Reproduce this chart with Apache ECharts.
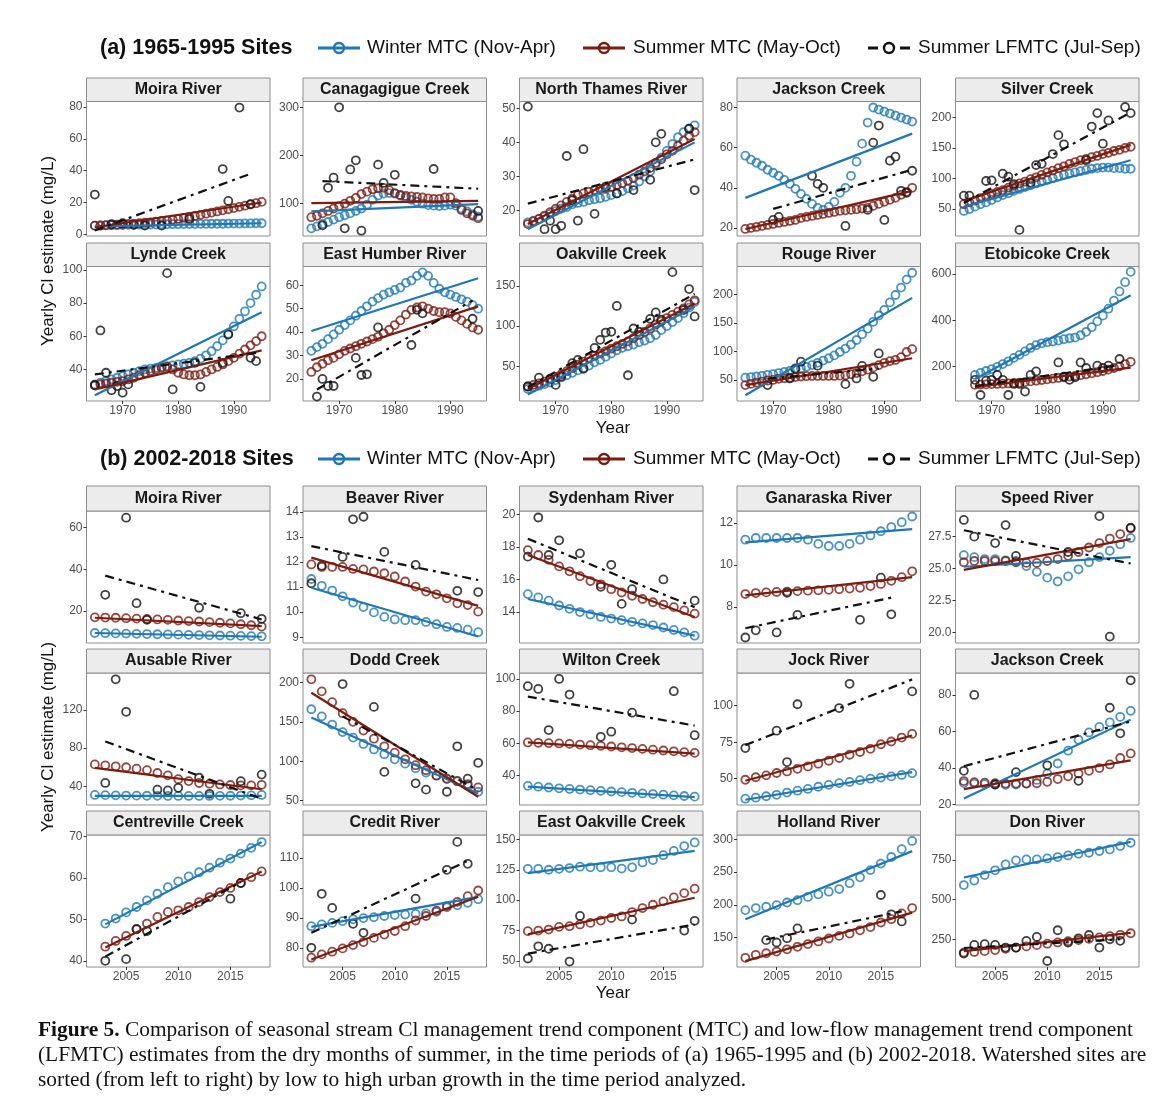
<!DOCTYPE html>
<html>
<head>
<meta charset="utf-8">
<script src="https://cdn.jsdelivr.net/npm/echarts@6/dist/echarts.min.js"></script>
<style>
html, body { margin: 0; padding: 0; background: #fff; }
#container { width: 1163px; height: 1112px; }
</style>
</head>
<body>
<div id="container"></div>
<script>
// ---- (a) 1965-1995 sites ----
const sitesA = ['Moira River', 'Canagagigue Creek', 'North Thames River', 'Jackson Creek', 'Silver Creek',
    'Lynde Creek', 'East Humber River', 'Oakville Creek', 'Rouge River', 'Etobicoke Creek'];
const yearsA = [1965, 1966, 1967, 1968, 1969, 1970, 1971, 1972, 1973, 1974, 1975, 1976, 1977, 1978, 1979, 1980,
    1981, 1982, 1983, 1984, 1985, 1986, 1987, 1988, 1989, 1990, 1991, 1992, 1993, 1994, 1995];
const xTicksA = [1970, 1980, 1990];
const yTicksA = [[0, 20, 40, 60, 80], [100, 200, 300], [20, 30, 40, 50], [20, 40, 60, 80], [50, 100, 150, 200],
    [40, 60, 80, 100], [20, 30, 40, 50, 60], [50, 100, 150], [50, 100, 150, 200], [200, 400, 600]];
const yRangeA = [[-1, 83.4], [33, 312], [12.5, 52], [16, 83], [6, 226],
    [21, 102], [10.6, 68], [7, 174], [13, 249], [50, 633]];

const winterA = [
    [5.5, 5.6, 5.7, 5.8, 5.8, 5.9, 6, 6, 6.1, 6.1, 6.2, 6.2, 6.3, 6.3, 6.4, 6.4, 6.5, 6.5, 6.5, 6.6, 6.6, 6.7, 6.7, 6.7, 6.8, 6.8, 6.8, 6.9, 6.9, 7, 7],
    [49, 53, 58, 62, 67, 72, 76, 80, 85, 90, 98, 108, 117, 121, 122, 121, 117, 112, 108, 104, 100, 97, 96, 95, 96, 98, 96, 90, 84, 78, 73],
    [16.5, 17, 17.5, 18.2, 19, 19.8, 20.5, 21, 21.8, 22.2, 22.5, 23, 23.3, 23.6, 24, 24.5, 25, 25.7, 26.5, 27.3, 28.5, 30, 31.5, 33.5, 35.5, 37.5, 39.5, 41.5, 43, 44, 45],
    [56, 54, 52.5, 51, 49, 47.5, 46, 44, 42, 39.5, 37, 34.5, 32, 30, 29, 30.5, 33, 37.5, 40, 46, 53, 62, 72.5, 80, 79, 78, 77, 76, 75, 74, 73],
    [47, 50, 54, 58, 61, 65, 69, 73, 76, 80, 83, 86, 89, 92, 95, 98, 101, 104, 106, 108, 110, 112, 114, 116, 117, 118, 118, 117, 117, 116, 116],
    [31, 32, 33, 34, 35, 36, 37, 38, 39, 40, 40.5, 41, 41.5, 42, 42.5, 43, 43.5, 44, 45, 46.5, 48.5, 51, 54, 57.5, 61.5, 66, 70.5, 75, 80, 85, 90],
    [32, 33.6, 35, 37, 39, 41, 43, 45, 47, 49, 51, 53, 54.5, 56, 57, 58, 59, 61, 62, 64, 65.5, 64, 61, 58.5, 57, 56, 55, 54, 53, 51.5, 50],
    [22, 24, 26, 28, 30, 33, 36, 39, 42, 45, 48, 51, 55, 58, 62, 66, 70, 73, 75, 77, 80, 82, 85, 89, 95, 100, 105, 110, 116, 123, 130],
    [54, 55, 56, 57, 59, 60, 62, 64, 66, 68, 70, 73, 76, 80, 84, 88, 93, 99, 105, 112, 120, 130, 140, 152, 163, 173, 186, 199, 212, 226, 238],
    [null, null, 163, 172, 180, 188, 198, 210, 222, 237, 250, 265, 280, 292, 300, 305, 308, 312, 318, 322, 325, 335, 350, 370, 395, 420, 450, 485, 525, 565, 610]
];
const summerA = [
    [5.5, 5.6, 5.8, 6, 6.2, 6.4, 6.6, 6.8, 7, 7.3, 7.6, 8, 8.4, 8.8, 9.3, 9.8, 10.4, 11, 11.6, 12.3, 13, 13.7, 14.4, 15.1, 15.8, 16.5, 17.3, 18, 18.8, 19.6, 20.4],
    [72, 75, 80, 85, 90, 95, 100, 106, 112, 120, 125, 130, 132, 133, 128, 122, 118, 116, 115, 114, 113, 111, 110, 110, 113, 113, 101, 87, 80, 75, 70],
    [16, 16.8, 17.5, 18.5, 19.5, 20.5, 21.5, 22.5, 23.5, 24.5, 25, 25.5, 26, 26.3, 26.6, 27, 27.5, 28, 28.7, 29.5, 30.5, 31.5, 32.5, 34, 35, 36.5, 37.5, 39, 40.5, 42, 43],
    [19.5, 20, 20.5, 21, 21.5, 22, 22.5, 23, 23.5, 24, 25, 25.5, 26, 26.5, 27, 27.5, 28, 28.5, 28.8, 29, 29.3, 29.7, 30, 31, 32, 33, 34, 35, 36.5, 38, 40],
    [58, 61, 64, 68, 71, 75, 78, 81, 85, 88, 92, 95, 99, 102, 106, 110, 113, 117, 120, 124, 127, 130, 132, 135, 137, 140, 142, 145, 147, 150, 152],
    [30.5, 31, 31.5, 32, 32.5, 33, 34, 35, 36.5, 38, 39, 40, 41, 41.5, 40, 38, 37, 36.5, 36.5, 37, 38.5, 40, 41.5, 43, 45, 47, 49.5, 52, 54.5, 57, 60],
    [23, 25, 26.5, 28, 29, 30.5, 32, 33, 34, 35, 36, 37, 38, 39.5, 41, 43, 45, 47.5, 49.5, 50.5, 51, 50, 49, 48.5, 48.5, 48, 46.5, 45, 43.5, 42, 41],
    [25, 27, 29, 31, 34, 37, 40, 44, 48, 52, 56, 60, 63, 66, 69, 72, 75, 78, 81, 85, 89, 93, 97, 102, 106, 110, 114, 118, 122, 127, 132],
    [41, 43, 45, 47, 49, 50, 52, 53, 54, 55, 56, 56.5, 57, 57, 57, 57, 57, 57.5, 58, 60, 62, 65, 68, 72, 76, 80, 83, 85, 90, 99, 104],
    [null, null, 120, 121, 122, 123, 124, 125, 126, 128, 130, 132, 135, 138, 141, 144, 147, 150, 153, 156, 159, 162, 166, 170, 175, 180, 186, 193, 200, 210, 220]
];
const lowFlowA = [
    [[1965, 25], [1968, 6.5], [1970, 7], [1972, 6], [1974, 5.5], [1977, 5.5], [1982, 9.7], [1988, 41], [1989, 21], [1991, 79.6], [1993, 19]],
    [[1967, 55], [1968, 133], [1969, 154], [1970, 300], [1971, 49], [1972, 171], [1973, 190], [1974, 44], [1977, 181], [1978, 143], [1980, 160], [1987, 172], [1995, 85]],
    [[1965, 50.5], [1968, 14.5], [1969, 17], [1970, 14.5], [1971, 15.5], [1972, 36], [1973, 23], [1974, 17], [1975, 38], [1977, 19], [1979, 27], [1981, 25], [1984, 26], [1987, 29], [1988, 40], [1989, 42.5], [1994, 44], [1995, 26]],
    [[1970, 24], [1971, 25.5], [1977, 46], [1978, 42], [1979, 40], [1983, 21], [1987, 29], [1988, 62.5], [1989, 71], [1990, 24], [1991, 53.5], [1992, 55.5], [1993, 38.5], [1994, 37.5], [1995, 48.5]],
    [[1965, 72], [1966, 72], [1969, 96], [1970, 97], [1972, 108], [1973, 103], [1974, 91], [1975, 16], [1977, 93], [1978, 122], [1979, 124], [1981, 140], [1982, 171], [1983, 156], [1987, 130], [1988, 185], [1989, 207], [1990, 157], [1991, 195], [1994, 217], [1995, 207]],
    [[1965, 30.5], [1966, 63.5], [1967, 38], [1968, 27.5], [1969, 30], [1970, 26], [1971, 31], [1978, 98], [1979, 28], [1983, 44], [1984, 29.5], [1988, 44], [1989, 61], [1993, 47], [1994, 45]],
    [[1966, 12.5], [1967, 20], [1968, 17], [1969, 17], [1973, 29], [1974, 21.7], [1975, 22], [1977, 42], [1983, 34.5], [1984, 49.5], [1985, 48], [1994, 45.7]],
    [[1965, 25], [1967, 36], [1969, 34.5], [1970, 27], [1971, 37.5], [1973, 54], [1974, 58], [1975, 47], [1977, 73], [1978, 83], [1979, 92], [1980, 93], [1981, 125], [1983, 39], [1984, 97], [1985, 93], [1987, 109], [1988, 117], [1989, 108], [1991, 167], [1993, 120], [1994, 146], [1995, 112]],
    [[1969, 41], [1973, 52.6], [1974, 70], [1975, 82], [1978, 75], [1983, 42.6], [1985, 52.6], [1986, 74.5], [1988, 55.5], [1989, 96.5]],
    [[1967, 142], [1968, 76], [1969, 138], [1970, 142], [1971, 163], [1972, 142], [1973, 76], [1974, 124], [1975, 124], [1976, 91], [1977, 163], [1978, 178], [1982, 217], [1983, 156], [1984, 142], [1985, 153], [1986, 217], [1987, 193], [1989, 203], [1990, 193], [1991, 203], [1993, 232]]
];
// trend lines: winter / summer [start, end]; low flow [x0, y0, x1, y1]
const winterTrendA = [[5, 7], [84, 99], [14.5, 40], [35, 67], [54, 130], [24.5, 74.5], [40.5, 63], [15, 124], [23, 194], [145, 508]];
const summerTrendA = [[4.5, 20], [101, 106], [16, 41], [19.5, 38.5], [63, 155], [28, 51.5], [28, 51], [22, 128], [41, 88], [110, 195]];
const lowFlowTrendA = [[1965, 2.5, 1993, 38], [1967, 147, 1995, 131], [1965, 22, 1995, 35], [1970, 29.5, 1995, 49], [1965, 60, 1995, 208],
    [1965, 37, 1994, 50], [1966, 15.5, 1994, 53.5], [1965, 24, 1995, 140], [1969, 52, 1989, 70], [1967, 115, 1993, 205]];

// ---- (b) 2002-2018 sites ----
const sitesB = ['Moira River', 'Beaver River', 'Sydenham River', 'Ganaraska River', 'Speed River',
    'Ausable River', 'Dodd Creek', 'Wilton Creek', 'Jock River', 'Jackson Creek',
    'Centreville Creek', 'Credit River', 'East Oakville Creek', 'Holland River', 'Don River'];
const yearsB = [2002, 2003, 2004, 2005, 2006, 2007, 2008, 2009, 2010, 2011, 2012, 2013, 2014, 2015, 2016, 2017, 2018];
const xTicksB = [2005, 2010, 2015];
const yTicksB = [[20, 40, 60], [9, 10, 11, 12, 13, 14], [14, 16, 18, 20], [8, 10, 12], [20, 22.5, 25, 27.5],
    [40, 80, 120], [50, 100, 150, 200], [40, 60, 80, 100], [50, 75, 100], [20, 40, 60, 80],
    [40, 50, 60, 70], [80, 90, 100, 110], [50, 75, 100, 125, 150], [150, 200, 250, 300], [250, 500, 750]];
const yRangeB = [[4.7, 68], [8.77, 14.03], [12.1, 20.2], [6.3, 12.56], [19.2, 29.5],
    [20.5, 158.6], [44.5, 212], [21.6, 103.7], [32, 122.4], [19.8, 92],
    [38.5, 70.4], [73.6, 117.6], [45, 153.6], [105, 306.6], [75, 908]];

const winterB = [
    [9.5, 9.4, 9.3, 9.2, 9.1, 9, 8.9, 8.8, 8.7, 8.6, 8.5, 8.4, 8.3, 8.2, 8.1, 8, 7.9],
    [11.32, 11.05, 10.86, 10.63, 10.38, 10.2, 9.99, 9.81, 9.71, 9.68, 9.68, 9.61, 9.52, 9.41, 9.37, 9.3, 9.2],
    [15.1, 14.9, 14.7, 14.4, 14.2, 14, 13.85, 13.7, 13.6, 13.5, 13.4, 13.3, 13.2, 13.05, 12.9, 12.75, 12.55],
    [11.2, 11.28, 11.28, 11.28, 11.28, 11.28, 11.2, 11.0, 10.9, 10.9, 11.0, 11.2, 11.4, 11.6, 11.8, 12.03, 12.3],
    [26.05, 25.9, 25.75, 25.75, 25.65, 25.6, 25.2, 24.75, 24.3, 24.0, 24.4, 24.95, 25.5, 25.9, 26.4, 26.9, 27.4],
    [31, 30.8, 30.6, 30.4, 30.3, 30.2, 30.1, 30, 30, 30, 30, 30, 30.1, 30.2, 30.4, 30.6, 31],
    [166, 157, 146.6, 137, 130, 122, 115, 109, 102.5, 97, 91.2, 85.7, 81.5, 77.3, 74.4, 69, 61.3],
    [33.5, 33, 32.5, 32, 31.6, 31.2, 30.8, 30.4, 30, 29.6, 29.2, 28.8, 28.4, 28, 27.6, 27.2, 26.8],
    [36.3, 37, 38, 39, 40.5, 41.8, 43, 44.5, 45.8, 47, 47.8, 49, 50, 50.8, 51.6, 52.6, 53.8],
    [31.8, 31.5, 31.2, 31, 30.8, 31, 31.5, 33.5, 37, 42.5, 49.5, 55.5, 59.5, 62.5, 65, 68, 71.3],
    [null, 49, 50.2, 51.7, 53, 54.6, 56.2, 57.8, 59.2, 60.4, 61.4, 62.5, 63.7, 64.7, 65.9, 67.3, 68.7],
    [87.2, 87.8, 88.3, 88.9, 89.5, 89.9, 90.2, 90.6, 90.9, 91.1, 91.3, 91.5, 92, 93.5, 94.2, 95, 96.2],
    [125.8, 125.8, 125, 125.8, 126.4, 127.5, 127, 127, 127, 126, 127, 131, 133, 137, 140.5, 144.5, 147.5],
    [191.9, 195, 197, 199.5, 203.5, 207, 212, 216, 220, 224, 233, 242, 253, 263, 273, 285, 297.5],
    [592, 621, 655, 685, 723, 748, 754, 754, 760, 769, 779, 790, 796, 807, 817, 838, 859]
];
const summerB = [
    [17, 16.9, 16.8, 16.6, 16.4, 16.2, 16, 15.8, 15.5, 15.2, 15, 14.7, 14.4, 14.1, 13.7, 13.2, 12.6],
    [11.9, 11.8, 11.8, 11.8, 11.72, 11.7, 11.62, 11.55, 11.42, 11.22, 11.02, 10.82, 10.71, 10.55, 10.35, 10.28, 10.02],
    [17.8, 17.5, 17.2, 16.8, 16.5, 16.2, 15.9, 15.7, 15.4, 15.2, 15.0, 14.8, 14.6, 14.45, 14.3, 14.1, 13.9],
    [8.62, 8.67, 8.7, 8.72, 8.74, 8.76, 8.78, 8.8, 8.82, 8.85, 8.88, 8.92, 9.0, 9.1, 9.25, 9.42, 9.7],
    [25.5, 25.6, 25.6, 25.6, 25.6, 25.5, 25.45, 25.45, 25.6, 25.75, 26.0, 26.3, 26.65, 27.0, 27.35, 27.7, 28.15],
    [63, 62, 61, 60, 58.5, 57, 54, 51.5, 47.5, 45.5, 43.5, 42.8, 42, 41.4, 41, 41, 41.6],
    [204, 188.7, 175, 161, 150, 139, 128.6, 119, 110.9, 102.5, 95, 88.6, 82, 78, 75, 71, 66.8],
    [60.5, 60.3, 60.1, 59.9, 59.6, 59.2, 58.8, 58.4, 58, 57.5, 57, 56.5, 56, 55.5, 55, 54.5, 54],
    [49.3, 51, 52.3, 53.9, 55, 56.8, 58.4, 60.3, 62.3, 64.2, 66.4, 68.3, 70.5, 73.6, 75.5, 78.2, 80.7],
    [32.9, 32.3, 32, 31.7, 31.5, 31.5, 31.5, 31.7, 32.5, 34, 35.5, 37, 38.5, 40, 42, 45.5, 48],
    [null, 43.4, 44.8, 46, 47.6, 49, 50.6, 51.8, 52.2, 53, 54.2, 55.4, 56.6, 57.6, 58.8, 60.2, 61.6],
    [76.7, 77.8, 78.7, 79.8, 80.9, 81.9, 83.3, 84.4, 85.6, 87.2, 89.1, 90.6, 92.4, 93.9, 95.3, 97.2, 99.1],
    [74.5, 75, 75.8, 78, 78.6, 80, 81.3, 83.2, 85.3, 86.6, 90.2, 93.5, 96.2, 99, 102.3, 105.8, 109.4],
    [119, 123.6, 126, 128.6, 132, 135.8, 140, 144, 148.5, 152.5, 156, 161, 166, 173, 178, 186.8, 195],
    [166, 170, 175, 182, 190, 197, 205, 213, 222, 230, 238, 245, 253, 262, 270, 278, 288]
];
const lowFlowB = [
    [[2003, 27.8], [2005, 64.8], [2006, 23.8], [2007, 15.8], [2012, 21.6], [2016, 19], [2018, 16.3]],
    [[2002, 11.15], [2003, 11.85], [2005, 12.2], [2006, 13.7], [2007, 13.8], [2009, 12.4], [2012, 11.88], [2016, 10.85], [2018, 10.8]],
    [[2002, 17.4], [2003, 19.8], [2004, 17.5], [2005, 18.4], [2007, 17.6], [2009, 15.55], [2010, 16.9], [2011, 14.5], [2012, 15.4], [2015, 16.0], [2018, 14.7]],
    [[2002, 6.56], [2003, 6.9], [2005, 6.8], [2006, 8.68], [2007, 7.63], [2013, 7.4], [2015, 9.4], [2016, 7.66]],
    [[2002, 28.8], [2003, 27.5], [2005, 27.0], [2006, 28.4], [2007, 26.0], [2012, 26.3], [2015, 29.1], [2016, 19.7], [2018, 28.2]],
    [[2003, 43.6], [2004, 152], [2005, 118], [2008, 36.5], [2009, 35.7], [2010, 38.5], [2012, 49], [2013, 32.2], [2016, 45.4], [2018, 52.3]],
    [[2005, 198], [2008, 169], [2009, 86.5], [2012, 72], [2013, 64], [2015, 61.3], [2016, 119], [2017, 78], [2018, 98]],
    [[2002, 95.5], [2003, 93.8], [2004, 68.2], [2005, 100], [2006, 90.3], [2009, 64], [2010, 67.2], [2012, 79], [2016, 92.4], [2018, 65]],
    [[2002, 71], [2005, 82.9], [2006, 61.4], [2007, 101], [2011, 98.4], [2012, 115], [2018, 109.8]],
    [[2002, 38.5], [2003, 80], [2005, 31], [2007, 37.8], [2010, 41.5], [2013, 33], [2016, 73], [2017, 59], [2018, 88]],
    [[2003, 40], [2005, 40.4], [2006, 47.7], [2007, 47.2], [2015, 55], [2016, 58.8]],
    [[2002, 80], [2003, 98], [2004, 93.3], [2006, 88], [2007, 85], [2012, 96.4], [2015, 106], [2016, 115.3], [2017, 108]],
    [[2002, 52], [2003, 62], [2004, 60], [2006, 49.5], [2007, 87], [2012, 84], [2017, 75], [2018, 83]],
    [[2004, 146], [2005, 142.4], [2006, 149], [2007, 164], [2015, 215], [2016, 185.5], [2017, 174.6]],
    [[2002, 160], [2003, 214], [2004, 219], [2005, 214], [2006, 197.5], [2007, 197.5], [2008, 240], [2009, 265], [2010, 113], [2011, 307], [2012, 229], [2013, 256], [2014, 277], [2015, 197.5], [2016, 250], [2017, 240]]
];
const winterTrendB = [[9.5, 7.7], [10.97, 9.03], [14.8, 12.55], [11.07, 11.7], [25.15, 25.9], [30, 30], [155.5, 59], [33, 26.5],
    [35.6, 54.5], [23.3, 66.5], [48.8, 68.7], [87, 97], [122.3, 140.6], [178, 282], [640, 865]];
const summerTrendB = [[16.8, 12.8], [12.17, 10.25], [17.5, 13.7], [8.56, 9.42], [24.9, 27.3], [59.3, 37], [187, 55], [60.5, 53.5],
    [48.6, 79.6], [28.5, 44.2], [43.2, 61.6], [76.1, 97], [71.9, 102], [114, 188], [175, 290]];
const lowFlowTrendB = [[2003, 37, 2018, 16], [2002, 12.63, 2018, 11.28], [2002, 18.5, 2018, 14.3], [2002, 7.0, 2016, 8.45], [2002, 28.0, 2018, 25.4],
    [2003, 87, 2018, 27], [2005, 157, 2018, 63], [2002, 89, 2018, 71], [2002, 73, 2018, 118], [2002, 41, 2018, 65.5],
    [2003, 41, 2016, 59], [2002, 85, 2017, 109], [2002, 56, 2018, 80], [2004, 147, 2017, 190], [2002, 195, 2017, 250]];

const seriesNames = ['Winter MTC (Nov-Apr)', 'Summer MTC (May-Oct)', 'Summer LFMTC (Jul-Sep)'];

(function () {
    const chart = echarts.init(document.getElementById('container'));

    const BLUE = '#1f78b4', BROWN = '#7a1c10', BLACK = '#111111';
    const SANS = '"Liberation Sans", Arial, sans-serif';
    const colLeft = [86.5, 303, 519.5, 737, 955.5];
    const PW = 183.5;

    let grids = [], xAxes = [], yAxes = [], series = [], graphics = [];

    function decimals(ticks) {
        let d = 0;
        ticks.forEach(function (t) {
            let s = String(t).split('.')[1];
            if (s) d = Math.max(d, s.length);
        });
        return d;
    }

    function addPanel(title, left, stripTop, plotTop, plotBottom, xRange, xTicks, showX,
                      yRange, yTicks, years, winter, summer, lowFlow, wTrend, sTrend, lTrend) {
        let i = grids.length;
        grids.push({
            left: left, top: plotTop, width: PW, height: plotBottom - plotTop,
            show: true, borderColor: '#8c8c8c', borderWidth: 1, backgroundColor: '#fff'
        });
        xAxes.push({
            type: 'value', gridIndex: i, min: xRange[0], max: xRange[1],
            axisLine: {show: false}, splitLine: {show: false},
            axisTick: {show: showX, customValues: xTicks, length: 3, lineStyle: {color: '#333'}},
            axisLabel: {
                show: showX, customValues: xTicks, color: '#4d4d4d', fontSize: 12, margin: 4, fontFamily: SANS,
                formatter: function (v) { return String(v); }
            }
        });
        let d = decimals(yTicks);
        yAxes.push({
            type: 'value', gridIndex: i, min: yRange[0], max: yRange[1],
            axisLine: {show: false}, splitLine: {show: false},
            axisTick: {show: true, customValues: yTicks, length: 3, lineStyle: {color: '#333'}},
            axisLabel: {
                customValues: yTicks, color: '#4d4d4d', fontSize: 12, margin: 4, fontFamily: SANS,
                formatter: function (v) { return v.toFixed(d); }
            }
        });

        graphics.push({
            type: 'rect', shape: {x: left, y: stripTop, width: PW, height: plotTop - stripTop},
            style: {fill: '#ececec', stroke: '#8c8c8c', lineWidth: 1}
        });
        graphics.push({
            type: 'text', x: left + PW / 2, y: (stripTop + plotTop) / 2,
            style: {text: title, font: 'bold 16px ' + SANS, fill: '#1a1a1a', align: 'center', verticalAlign: 'middle'}
        });

        let toPoints = function (vals) {
            let pts = [];
            years.forEach(function (y, j) { if (vals[j] != null) pts.push([y, vals[j]]); });
            return pts;
        };
        let wp = toPoints(winter), sp = toPoints(summer);
        let circle = function (name, data, color) {
            return {
                name: name, type: 'scatter', xAxisIndex: i, yAxisIndex: i, data: data,
                symbol: 'circle', symbolSize: 8, silent: true, z: 3,
                itemStyle: {color: 'rgba(0,0,0,0)', borderColor: color, borderWidth: 1.8}
            };
        };
        let trend = function (name, data, color, dash) {
            return {
                name: name, type: 'line', xAxisIndex: i, yAxisIndex: i, data: data,
                symbol: 'none', silent: true, z: 4,
                lineStyle: {color: color, width: 2.2, type: dash ? [9, 5, 3, 5] : 'solid'}
            };
        };
        series.push(circle(seriesNames[0], wp, BLUE));
        series.push(circle(seriesNames[1], sp, BROWN));
        series.push(circle(seriesNames[2], lowFlow, BLACK));
        series.push(trend(seriesNames[0], [[wp[0][0], wTrend[0]], [wp[wp.length - 1][0], wTrend[1]]], BLUE, false));
        series.push(trend(seriesNames[1], [[sp[0][0], sTrend[0]], [sp[sp.length - 1][0], sTrend[1]]], BROWN, false));
        series.push(trend(seriesNames[2], [[lTrend[0], lTrend[1]], [lTrend[2], lTrend[3]]], BLACK, true));
    }

    // (a) layout: 2 rows
    const rowsA = [[78, 101.5, 236], [243, 266.5, 401]];
    sitesA.forEach(function (name, k) {
        let r = Math.floor(k / 5), c = k % 5;
        addPanel(name, colLeft[c], rowsA[r][0], rowsA[r][1], rowsA[r][2], [1963.5, 1996.5], xTicksA, r === 1,
            yRangeA[k], yTicksA[k], yearsA, winterA[k], summerA[k], lowFlowA[k],
            winterTrendA[k], summerTrendA[k], lowFlowTrendA[k]);
    });
    // (b) layout: 3 rows
    const rowsB = [[486, 511, 643], [649, 673, 805], [811, 835, 967]];
    sitesB.forEach(function (name, k) {
        let r = Math.floor(k / 5), c = k % 5;
        addPanel(name, colLeft[c], rowsB[r][0], rowsB[r][1], rowsB[r][2], [2001.2, 2018.8], xTicksB, r === 2,
            yRangeB[k], yTicksB[k], yearsB, winterB[k], summerB[k], lowFlowB[k],
            winterTrendB[k], summerTrendB[k], lowFlowTrendB[k]);
    });

    // legend rows
    function legendRow(label, y) {
        graphics.push({type: 'text', x: 100, y: y, style: {text: label, font: 'bold 21.5px ' + SANS, fill: '#111', verticalAlign: 'middle'}});
        let items = [[318, BLUE, false, 367], [583, BROWN, false, 633], [868, BLACK, true, 918]];
        items.forEach(function (it, n) {
            let x0 = it[0], col = it[1];
            if (it[2]) {
                graphics.push({type: 'line', shape: {x1: x0, y1: y, x2: x0 + 10, y2: y}, style: {stroke: col, lineWidth: 3}});
                graphics.push({type: 'line', shape: {x1: x0 + 32, y1: y, x2: x0 + 42, y2: y}, style: {stroke: col, lineWidth: 3}});
            } else {
                graphics.push({type: 'line', shape: {x1: x0, y1: y, x2: x0 + 42, y2: y}, style: {stroke: col, lineWidth: 3}});
            }
            graphics.push({type: 'circle', shape: {cx: x0 + 21, cy: y, r: 5}, style: {fill: 'none', stroke: col, lineWidth: 2.4}});
            graphics.push({type: 'text', x: it[3], y: y, style: {text: seriesNames[n], font: '19px ' + SANS, fill: '#111', verticalAlign: 'middle'}});
        });
    }
    legendRow('(a) 1965-1995 Sites', 48);
    legendRow('(b) 2002-2018 Sites', 459);

    // axis titles
    [[251, 428], [737, 993]].forEach(function (p) {
        graphics.push({type: 'text', x: 48, y: p[0], rotation: Math.PI / 2,
            style: {text: 'Yearly Cl estimate (mg/L)', font: '17px ' + SANS, fill: '#111', align: 'center', verticalAlign: 'middle'}});
        graphics.push({type: 'text', x: 613, y: p[1],
            style: {text: 'Year', font: '17px ' + SANS, fill: '#111', align: 'center', verticalAlign: 'middle'}});
    });

    // caption
    const captionLines = [
        '{b|Figure 5.} Comparison of seasonal stream Cl management trend component (MTC) and low-flow management trend component',
        '(LFMTC) estimates from the dry months of summer, in the time periods of (a) 1965-1995 and (b) 2002-2018. Watershed sites are',
        'sorted (from left to right) by low to high urban growth in the time period analyzed.'
    ];
    captionLines.forEach(function (t, n) {
        graphics.push({type: 'text', x: 38, y: 1030 + n * 25,
            style: {text: t, font: '21.4px "Liberation Serif", "DejaVu Serif", serif', fill: '#111', verticalAlign: 'middle',
                rich: {b: {fontWeight: 'bold', fontSize: 21.4, fontFamily: '"Liberation Serif", serif'}}}});
    });

    chart.setOption({
        backgroundColor: '#fff',
        animation: false,
        grid: grids,
        xAxis: xAxes,
        yAxis: yAxes,
        series: series,
        graphic: {elements: graphics}
    });
})();
</script>
</body>
</html>
